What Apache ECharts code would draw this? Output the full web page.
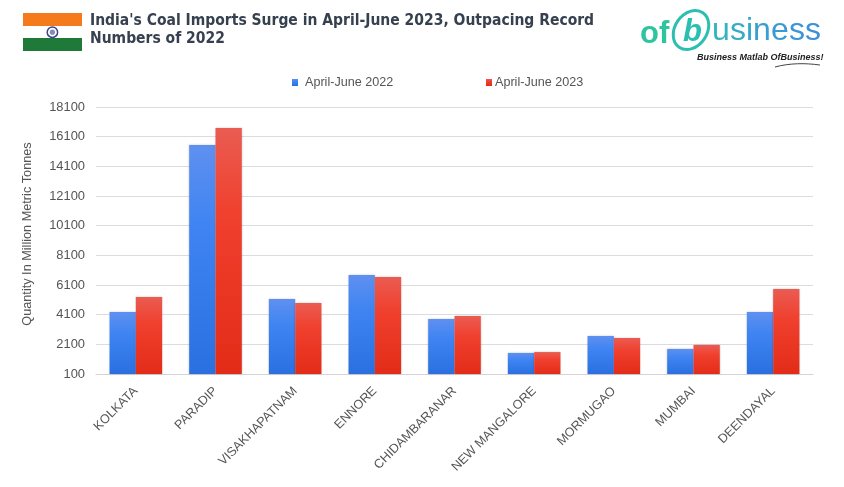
<!DOCTYPE html>
<html><head><meta charset="utf-8">
<style>html,body{margin:0;padding:0;background:#fff}#c{width:844px;height:487px}</style>
<script src="https://cdn.jsdelivr.net/npm/echarts@6/dist/echarts.min.js"></script>
</head><body><div id="c"></div>
<script>
const categories=["KOLKATA","PARADIP","VISAKHAPATNAM","ENNORE","CHIDAMBARANAR","NEW MANGALORE","MORMUGAO","MUMBAI","DEENDAYAL"];
const values2022=[4280,15540,5150,6780,3800,1520,2660,1790,4280];
const values2023=[5290,16690,4890,6640,4010,1580,2530,2060,5830];
const tickValues=[100,2100,4100,6100,8100,10100,12100,14100,16100,18100];
const seriesNames=["April-June 2022","April-June 2023"];
const titleLines="India's Coal Imports Surge in April-June 2023, Outpacing Record\nNumbers of 2022";
const yAxisName="Quantity In Million Metric Tonnes";

const grad=(a,b,c)=>new echarts.graphic.LinearGradient(0,0,0,1,[{offset:0,color:a},{offset:.35,color:b},{offset:1,color:c}]);
const blue=grad('#5f90f0','#3f84f2','#2a70e0');
const red=grad('#ea5c52','#f0402e','#e22c18');
const font='Liberation Sans';
const chart=echarts.init(document.getElementById('c'),null,{renderer:'canvas'});
const barShadow={shadowColor:'rgba(0,0,0,0.22)',shadowBlur:2};
const logoLetters=[['u',712,'#35b4bc'],['s',730,'#36acc4'],['i',746,'#37a6ca'],['n',753,'#38a0d0'],['e',771,'#3a9ad4'],['s',789,'#3b95d8'],['s',805,'#3c90da']];
chart.setOption({
 animation:false,backgroundColor:'#fff',
 grid:{left:96,right:31,top:107,bottom:113,containLabel:false},
 legend:[
  {data:[seriesNames[0]],left:292,top:76,padding:0,icon:'rect',itemWidth:6,itemHeight:7,itemGap:0,textStyle:{color:'#555',fontFamily:font,fontSize:12.6,padding:[0,0,0,2]}},
  {data:[seriesNames[1]],left:486,top:76,padding:0,icon:'rect',itemWidth:6,itemHeight:7,itemGap:0,textStyle:{color:'#555',fontFamily:font,fontSize:12.6,padding:[0,0,0,-2]}}
 ],
 xAxis:{type:'category',data:categories,
  axisLine:{lineStyle:{color:'#d4d4d8'}},axisTick:{show:false},
  axisLabel:{rotate:45,color:'#555',fontFamily:font,fontSize:12.6,margin:15,interval:0}},
 yAxis:{type:'value',min:100,max:18100,
  name:yAxisName,nameLocation:'middle',nameGap:62,nameRotate:90,
  nameTextStyle:{color:'#555',fontFamily:font,fontSize:12.7,padding:[0,0,0,13]},
  axisLine:{show:false},axisTick:{show:false,customValues:tickValues},
  axisLabel:{customValues:tickValues,color:'#555',fontFamily:font,fontSize:12.9,margin:11,formatter:v=>String(v)},
  splitLine:{show:true,customValues:tickValues,lineStyle:{color:'#dcdce0',width:1}}},
 series:[
  {name:seriesNames[0],type:'bar',data:values2022,barGap:0,barCategoryGap:'34%',itemStyle:Object.assign({color:blue},barShadow)},
  {name:seriesNames[1],type:'bar',data:values2023,itemStyle:Object.assign({color:red},barShadow)}
 ],
 color:['#3f7fea','#d8392c'],
 graphic:[
  {type:'rect',shape:{x:23,y:13,width:59,height:13},style:{fill:'#f47a1c'}},
  {type:'rect',shape:{x:23,y:38,width:59,height:13},style:{fill:'#1f7a3a'}},
  {type:'circle',shape:{cx:52.4,cy:32.2,r:5.2},style:{fill:'#fff',stroke:'#3a4490',lineWidth:1.5}},
  {type:'circle',shape:{cx:52.4,cy:32.2,r:2.6},style:{fill:'#8a8ab8'}},
  {type:'text',x:90,y:11.5,style:{text:titleLines,fill:'#36404f',font:'bold 15.5px "DejaVu Sans Condensed","DejaVu Sans"',lineHeight:18.5}},
  {type:'text',x:640,y:19,style:{text:'of',fill:'#2ec4a0',font:'bold 31px "Liberation Sans"'}},
  {type:'text',x:683,y:17,style:{text:'b',fill:'#2bbfb0',font:'italic bold 31px "Liberation Sans"'}},
  {type:'ellipse',shape:{cx:691,cy:30,rx:16,ry:21},rotation:-0.6,originX:691,originY:30,style:{fill:'none',stroke:'#2bbfb0',lineWidth:3}},
  ...logoLetters.map(([t,x,c])=>({type:'text',x:x,y:15,style:{text:t,fill:c,font:'32px "Liberation Sans"'}})),
  {type:'text',x:697,y:53,style:{text:'Business Matlab OfBusiness!',fill:'#222',font:'italic bold 9px "Liberation Sans"'}},
  {type:'bezierCurve',shape:{x1:775,y1:67,cpx1:790,cpy1:63,cpx2:805,cpy2:63,x2:820,y2:65},style:{fill:'none',stroke:'#444',lineWidth:1}}
 ]
});
</script></body></html>
